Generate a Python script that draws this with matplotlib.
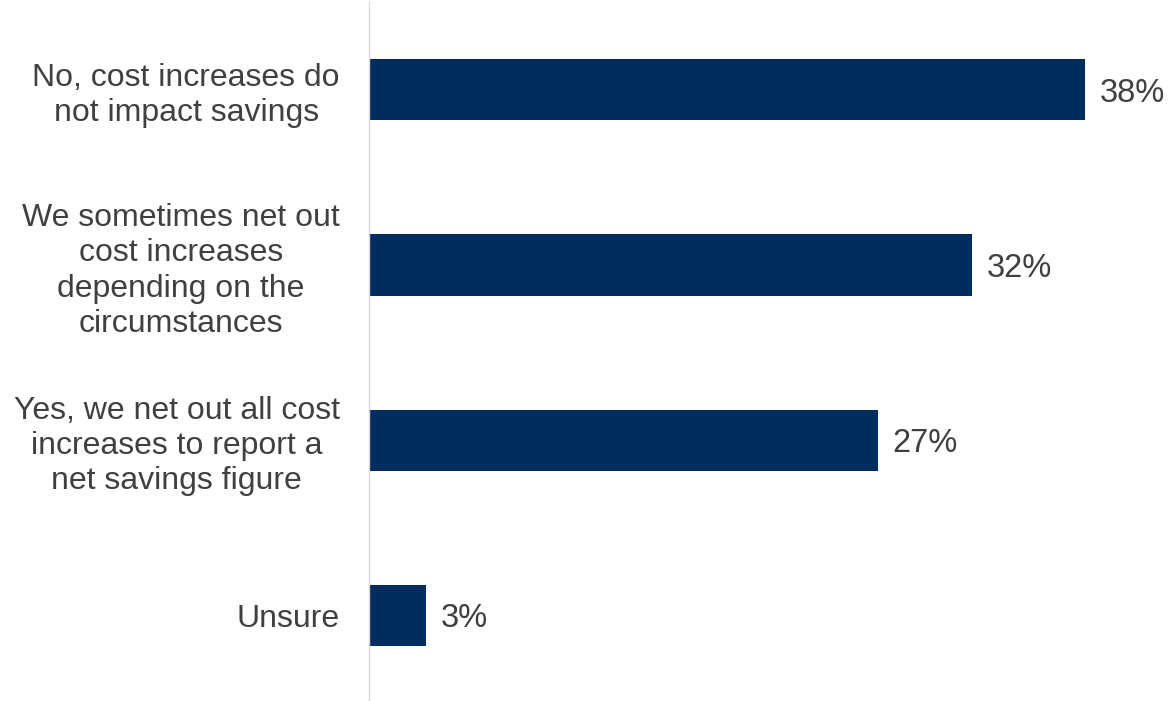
import matplotlib
matplotlib.use("Agg")
import matplotlib.pyplot as plt

plt.rcParams.update({
    "font.family": ["Liberation Sans", "DejaVu Sans"],
    "font.size": 23,
})

COL_BAR = "#002D5E"
COL_TXT = "#404040"

categories = [
    "No, cost increases do\nnot impact savings",
    "We sometimes net out\ncost increases\ndepending on the\ncircumstances",
    "Yes, we net out all cost\nincreases to report a\nnet savings figure",
    "Unsure",
]
shares = [38, 32, 27, 3]

fig = plt.figure(figsize=(11.68, 7.01), dpi=100)
ax = fig.add_axes([369 / 1168, -0.003, 1 - 369 / 1168, 1.0])

ypos = list(range(len(categories)))
ax.barh(ypos, shares, height=0.35, color=COL_BAR)

for y, v in zip(ypos, shares):
    ax.text(v + 0.8, y, f"{v}%", va="center_baseline", ha="left",
            color=COL_TXT, fontsize=23.5)

ax.set_ylim(len(categories) - 0.5, -0.5)
ax.set_xlim(0, 799 / 18.84)

ax.set_yticks(ypos)
ax.set_yticklabels(categories, multialignment="center",
                   color=COL_TXT, fontsize=23, linespacing=1.22)
ax.tick_params(axis="y", length=0, pad=21)
ax.set_xticks([])

for s in ["top", "right", "bottom"]:
    ax.spines[s].set_visible(False)
ax.spines["left"].set_color("#d9d9d9")
ax.spines["left"].set_linewidth(1.0)

fig.savefig("out.png", dpi=100)
